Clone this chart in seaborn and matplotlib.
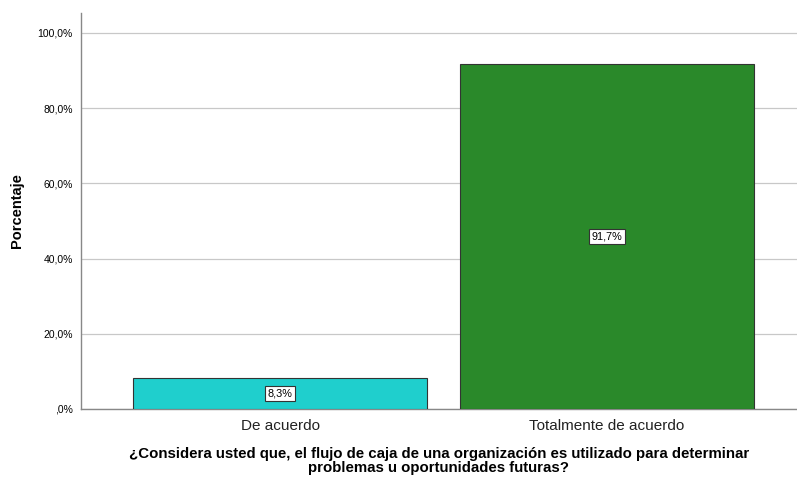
import matplotlib
matplotlib.use('Agg')
import matplotlib.pyplot as plt
import pandas as pd
import seaborn as sns

categories = ['De acuerdo', 'Totalmente de acuerdo']
percentages = [8.3, 91.7]
bar_colors = ['#1fcfcd', '#2a892a']
y_ticks = [0, 20, 40, 60, 80, 100]
y_tick_labels = [',0%', '20,0%', '40,0%', '60,0%', '80,0%', '100,0%']
x_title = ('¿Considera usted que, el flujo de caja de una organización es utilizado para determinar\n'
           'problemas u oportunidades futuras?')

sns.set_style('white')
plt.rcParams['font.family'] = ['Liberation Sans', 'DejaVu Sans']
plt.rcParams['text.color'] = 'black'
plt.rcParams['axes.labelcolor'] = 'black'
plt.rcParams['xtick.color'] = 'black'
plt.rcParams['ytick.color'] = 'black'

df = pd.DataFrame({'cat': categories, 'pct': percentages})

fig = plt.figure(figsize=(7.97, 4.78), dpi=100)
ax = fig.add_axes([0.1016, 0.1444, 0.8984, 0.8284])

sns.barplot(data=df, x='cat', y='pct', hue='cat', palette=bar_colors,
            saturation=1, width=0.9, edgecolor='#333333', linewidth=0.8,
            legend=False, ax=ax, zorder=3)

ax.set_xlim(-0.609, 1.581)
ax.set_ylim(0, 105.3)
ax.set_yticks(y_ticks)
ax.set_yticklabels(y_tick_labels, fontsize=7.5)
ax.tick_params(axis='y', length=0, pad=6)
ax.tick_params(axis='x', length=0, labelsize=11, pad=7, labelcolor='#222222')
ax.grid(axis='y', color='#c8c8c8', linewidth=0.9, zorder=0)

for s in ['top', 'right']:
    ax.spines[s].set_visible(False)
for s in ['left', 'bottom']:
    ax.spines[s].set_color('#888888')
    ax.spines[s].set_linewidth(1.0)

for i, v in enumerate(percentages):
    ax.text(i, v / 2, f'{v:.1f}%'.replace('.', ','), ha='center', va='center',
            fontsize=7.8, zorder=5,
            bbox=dict(boxstyle='square,pad=0.25', facecolor='white',
                      edgecolor='#333333', linewidth=0.8))

ax.set_ylabel('Porcentaje', fontsize=10.5, fontweight='bold', labelpad=10)
ax.set_xlabel(x_title, fontsize=10.8, fontweight='bold', labelpad=10,
              linespacing=1.0)

fig.savefig('out.png', dpi=100)
